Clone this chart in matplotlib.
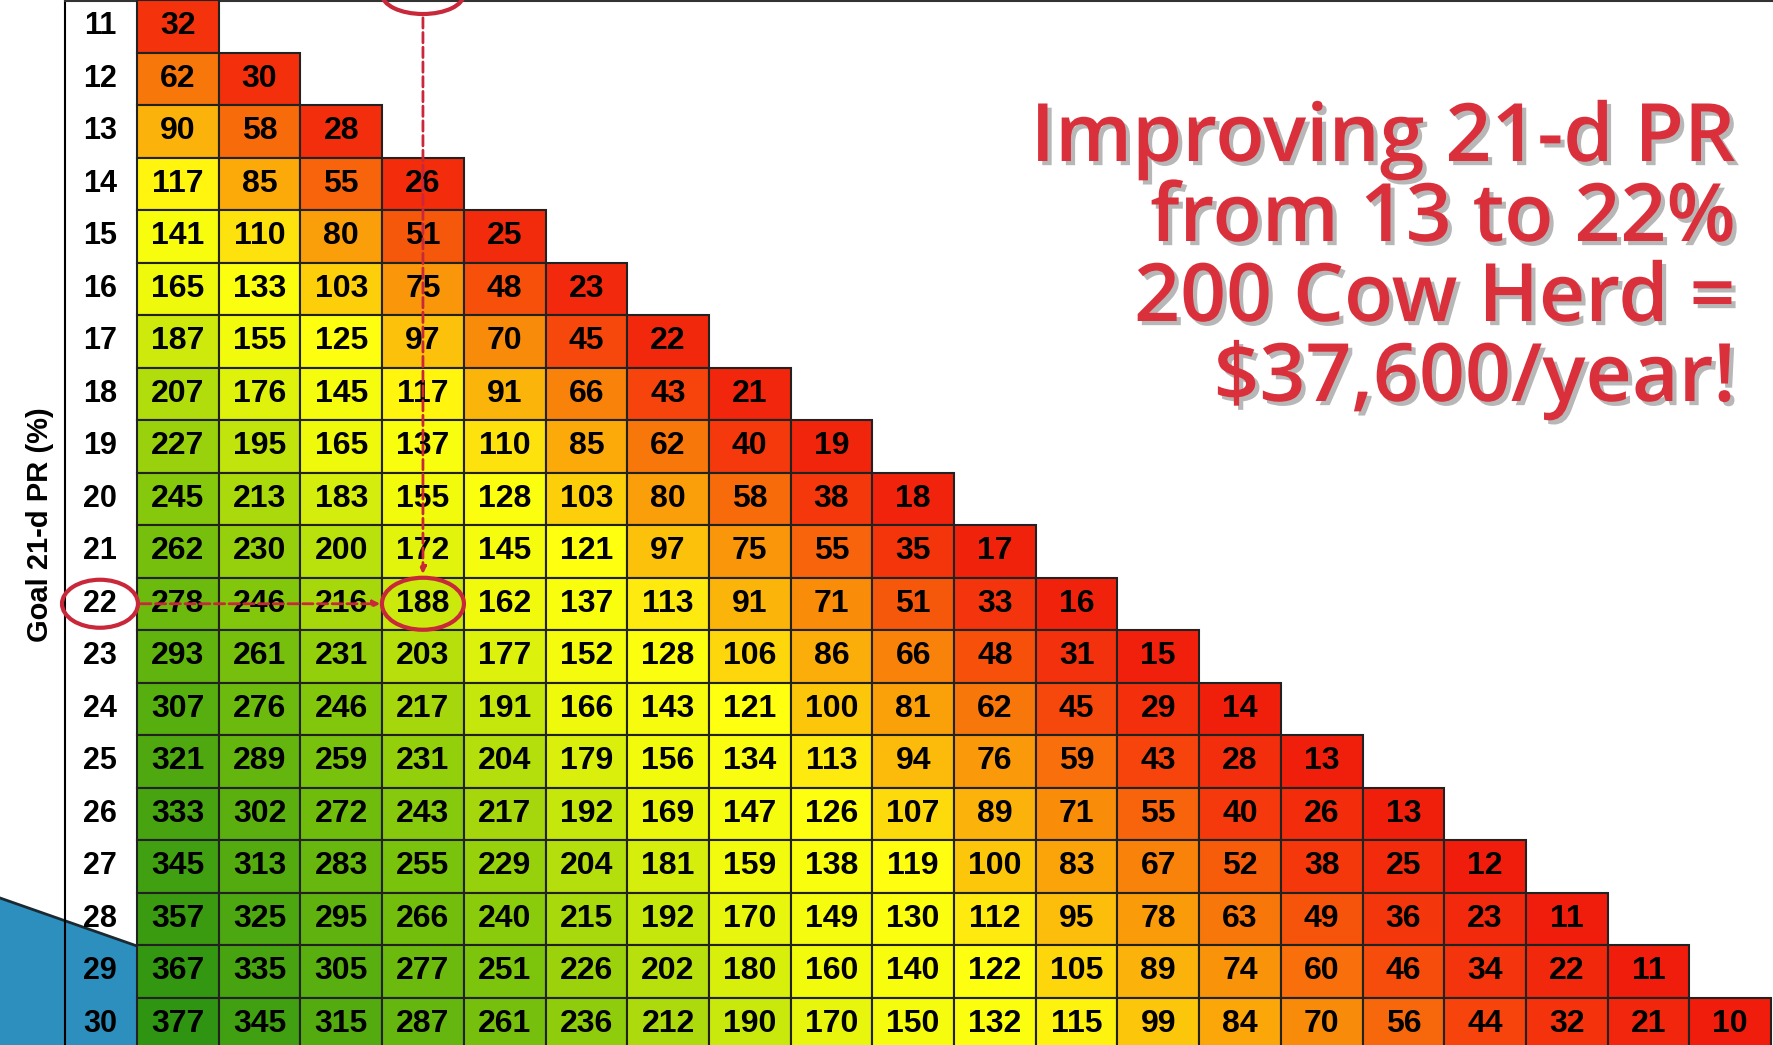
import numpy as np
import matplotlib.pyplot as plt
from matplotlib.colors import LinearSegmentedColormap, Normalize
from matplotlib.patches import Ellipse, Polygon, Rectangle
import matplotlib.patheffects as pe

goal_pr = list(range(11, 31))
rows = [
    [32],
    [62, 30],
    [90, 58, 28],
    [117, 85, 55, 26],
    [141, 110, 80, 51, 25],
    [165, 133, 103, 75, 48, 23],
    [187, 155, 125, 97, 70, 45, 22],
    [207, 176, 145, 117, 91, 66, 43, 21],
    [227, 195, 165, 137, 110, 85, 62, 40, 19],
    [245, 213, 183, 155, 128, 103, 80, 58, 38, 18],
    [262, 230, 200, 172, 145, 121, 97, 75, 55, 35, 17],
    [278, 246, 216, 188, 162, 137, 113, 91, 71, 51, 33, 16],
    [293, 261, 231, 203, 177, 152, 128, 106, 86, 66, 48, 31, 15],
    [307, 276, 246, 217, 191, 166, 143, 121, 100, 81, 62, 45, 29, 14],
    [321, 289, 259, 231, 204, 179, 156, 134, 113, 94, 76, 59, 43, 28, 13],
    [333, 302, 272, 243, 217, 192, 169, 147, 126, 107, 89, 71, 55, 40, 26, 13],
    [345, 313, 283, 255, 229, 204, 181, 159, 138, 119, 100, 83, 67, 52, 38, 25, 12],
    [357, 325, 295, 266, 240, 215, 192, 170, 149, 130, 112, 95, 78, 63, 49, 36, 23, 11],
    [367, 335, 305, 277, 251, 226, 202, 180, 160, 140, 122, 105, 89, 74, 60, 46, 34, 22, 11],
    [377, 345, 315, 287, 261, 236, 212, 190, 170, 150, 132, 115, 99, 84, 70, 56, 44, 32, 21, 10],
]
title_lines = ['Improving 21-d PR', 'from 13 to 22%', '200 Cow Herd =', '$37,600/year!']

ncol = len(rows[-1])

# geometry in pixels
x0, cw = 137, 81.7
y0, rh = 0, 52.5
xe = x0 + cw * np.arange(ncol + 1)
ye = y0 + rh * np.arange(len(rows) + 1)

cmap = LinearSegmentedColormap.from_list('pr', [
    (0.0, '#f01c0c'), (0.08, '#f53a0c'), (0.16, '#f98a0a'), (0.24, '#fcc40a'),
    (0.30, '#ffff10'), (0.42, '#f0fa0c'), (0.52, '#b8e00c'), (0.66, '#7cc40c'),
    (0.85, '#4ea810'), (1.0, '#2f9412')])
norm = Normalize(10, 377)

fig = plt.figure(figsize=(17.73, 10.45), dpi=100)
ax = fig.add_axes([0, 0, 1, 1])
ax.set_xlim(0, 1773)
ax.set_ylim(1045, 0)
ax.axis('off')

# left blue decoration and label panel
ax.add_patch(Polygon([(0, 898), (137, 946), (137, 1045), (0, 1045)], closed=True,
                     facecolor='#2d8fbd', edgecolor='none', zorder=0))
ax.plot([0, 137], [898, 946], color='#1a2a33', lw=2, zorder=1)
ax.plot([65, 65], [0, 1045], color='black', lw=1.5, zorder=2)
ax.plot([65, 1773], [1, 1], color='#333333', lw=1.5, zorder=2)

for i, r in enumerate(rows):
    yc = (ye[i] + ye[i + 1]) / 2
    ax.text(100, yc, str(goal_pr[i]), ha='center', va='center', fontsize=22,
            fontweight='bold', family='Liberation Sans', zorder=5)
    for j, v in enumerate(r):
        ax.add_patch(Rectangle((xe[j], ye[i]), cw, rh, facecolor=cmap(norm(v)),
                               edgecolor='#222222', lw=1.5, zorder=3))
        ax.text((xe[j] + xe[j + 1]) / 2, yc, str(v), ha='center', va='center',
                fontsize=23, fontweight='bold', family='Liberation Sans', zorder=5)

ax.text(40, 525, 'Goal 21-d PR (%)', rotation=90, ha='center', va='center',
        fontsize=21, fontweight='bold', family='Liberation Sans')

# annotations
red = '#c8283a'
col4 = (xe[3] + xe[4]) / 2
row22 = (ye[11] + ye[12]) / 2
for cx, cy, w, h in [(100, row22, 76, 48), (col4, row22, 82, 52), (col4, -6, 82, 40)]:
    ax.add_patch(Ellipse((cx, cy), w, h, fill=False, edgecolor=red, lw=3, zorder=6))
ax.annotate('', xy=(col4 - 40, row22), xytext=(138, row22),
            arrowprops=dict(arrowstyle='-|>', color=red, lw=2, ls='--'), zorder=6)
ax.annotate('', xy=(col4, row22 - 27), xytext=(col4, 15),
            arrowprops=dict(arrowstyle='-|>', color=red, lw=2, ls='--'), zorder=6)

for k, line in enumerate(title_lines):
    ax.text(1735, 140 + k * 80, line, ha='right', va='center', fontsize=58,
            color='#d9303c', family='Open Sans', fontweight='semibold',
            path_effects=[pe.SimplePatchShadow(offset=(3, -3), shadow_rgbFace='#888888', alpha=0.6),
                          pe.Normal()])

fig.savefig('out.png', dpi=100)
